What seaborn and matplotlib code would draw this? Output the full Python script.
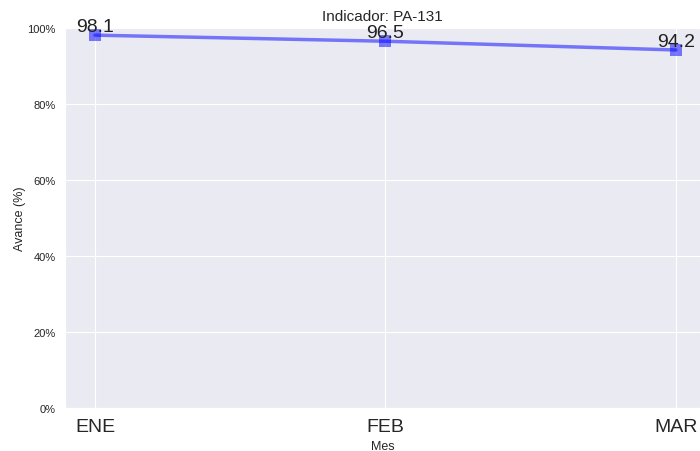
import matplotlib
matplotlib.use('Agg')
import matplotlib.pyplot as plt
import matplotlib.ticker as mtick
import seaborn as sns
import pandas as pd

# Data
meses = ['ENE', 'FEB', 'MAR']
avance = [98.1, 96.5, 94.2]
indicador = 'PA-131'

df = pd.DataFrame({'Mes': meses, 'Avance': avance})
df['pos'] = range(len(df))

sns.set_style('darkgrid')
plt.rcParams['font.family'] = ['Liberation Sans', 'DejaVu Sans']

fig = plt.figure(figsize=(7, 4.52), dpi=100)
ax = fig.add_axes([0.093, 0.095, 0.907, 0.841])

sns.lineplot(data=df, x='pos', y='Avance', color='blue', alpha=0.5, linewidth=2.5,
             marker='s', markersize=9, markeredgewidth=0, ax=ax)

# Value labels just above each point
for x, y in zip(df['pos'], df['Avance']):
    ax.text(x, y + 1, f'{y}', ha='center', fontsize=14, color='#222222')

ax.set_xlim(-0.103, 2.083)
ax.set_ylim(0, 100)
ax.set_xticks(df['pos'])
ax.set_xticklabels(meses, fontsize=14)
ax.yaxis.set_major_formatter(mtick.PercentFormatter(100, decimals=0))
ax.tick_params(axis='y', labelsize=8)
ax.set_xlabel('Mes', fontsize=9)
ax.set_ylabel('Avance (%)', fontsize=9, labelpad=1)
ax.set_title(f'Indicador: {indicador}', fontsize=11, pad=6)

plt.savefig('out.png', dpi=100)
